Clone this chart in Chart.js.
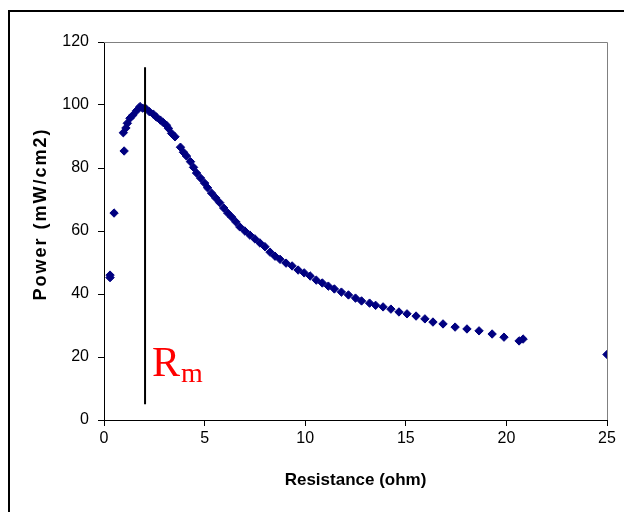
<!DOCTYPE html>
<html>
<head>
<meta charset="utf-8">
<script src="https://cdn.jsdelivr.net/npm/chart.js@4.4.1/dist/chart.umd.min.js"></script>
<style>
html,body{margin:0;padding:0;background:#fff;}
#wrap{width:624px;height:512px;position:relative;}
</style>
</head>
<body>
<div id="wrap"><canvas id="c" width="624" height="512"></canvas></div>
<script>
// Data
const resistance = [0.3, 0.3, 0.5, 1.0, 0.96, 1.09, 1.16, 1.29, 1.44, 1.62, 1.79, 1.92, 2.07, 2.25, 2.45, 2.6, 2.8, 2.95, 3.1, 3.2, 3.36, 3.53, 3.8, 3.95, 4.1, 4.3, 4.45, 4.6, 4.8, 5.0, 5.15, 5.35, 5.55, 5.75, 5.95, 6.15, 6.35, 6.55, 6.75, 7.0, 7.25, 7.5, 7.75, 8.0, 8.25, 8.5, 8.75, 9.05, 9.35, 9.65, 9.95, 10.25, 10.55, 10.85, 11.15, 11.45, 11.8, 12.15, 12.5, 12.8, 13.2, 13.5, 13.87, 14.26, 14.66, 15.06, 15.51, 15.95, 16.35, 16.85, 17.45, 18.04, 18.64, 19.29, 19.88, 20.63, 20.83, 25.0];
const power = [45.2, 46.0, 65.7, 85.4, 91.2, 92.7, 94.2, 95.8, 96.8, 98.2, 99.5, 99.0, 98.9, 97.9, 97.1, 96.2, 95.2, 94.4, 93.6, 92.6, 91.0, 89.9, 86.6, 85.0, 83.8, 82.0, 80.2, 78.4, 76.8, 75.2, 73.7, 72.0, 70.5, 69.0, 67.3, 65.7, 64.4, 62.9, 61.3, 60.0, 58.7, 57.5, 56.2, 55.0, 53.3, 52.0, 51.0, 49.8, 48.9, 47.6, 46.7, 45.7, 44.4, 43.5, 42.5, 41.6, 40.6, 39.7, 38.7, 37.8, 37.1, 36.4, 35.9, 35.2, 34.3, 33.7, 33.0, 32.1, 31.1, 30.5, 29.5, 28.9, 28.3, 27.3, 26.3, 25.1, 25.7, 20.8];
const rmLineX = [2.04, 2.04];
const rmLineY = [5, 112];
const rmLabel = {text: 'R', sub: 'm', x: 2.39, y: 14.0};
const xTicks = [0, 5, 10, 15, 20, 25];
const yTicks = [0, 20, 40, 60, 80, 100, 120];
const xTitle = 'Resistance (ohm)';
const yTitle = 'Power (mW/cm2)';

const points = resistance.map((r, i) => ({x: r, y: power[i]}));
const rmLine = rmLineX.map((x, i) => ({x: x, y: rmLineY[i]}));

const framePlugin = {
  id: 'frame',
  beforeDraw(chart) {
    const ctx = chart.ctx;
    ctx.save();
    ctx.fillStyle = '#fff';
    ctx.fillRect(0, 0, chart.width, chart.height);
    ctx.strokeStyle = '#000';
    ctx.lineWidth = 2;
    ctx.strokeRect(9, 11, 800, 700);
    ctx.restore();
  },
  beforeDatasetsDraw(chart) {
    const ctx = chart.ctx, a = chart.chartArea;
    ctx.save();
    ctx.strokeStyle = '#808080';
    ctx.lineWidth = 1;
    ctx.beginPath();
    ctx.moveTo(a.left, a.top + 0.5);
    ctx.lineTo(a.right + 0.5, a.top + 0.5);
    ctx.lineTo(a.right + 0.5, a.bottom);
    ctx.stroke();
    ctx.restore();
  },
  afterDraw(chart) {
    const ctx = chart.ctx;
    const px = chart.scales.x.getPixelForValue(rmLabel.x);
    const py = chart.scales.y.getPixelForValue(rmLabel.y);
    ctx.save();
    ctx.fillStyle = '#ff0000';
    ctx.textBaseline = 'alphabetic';
    ctx.font = '42px "Liberation Serif", "Times New Roman", serif';
    ctx.fillText(rmLabel.text, px, py);
    const w = ctx.measureText(rmLabel.text).width;
    ctx.font = '28px "Liberation Serif", "Times New Roman", serif';
    ctx.fillText(rmLabel.sub, px + w + 1, py + 6);
    ctx.restore();
    // y axis title (spaced like the reference)
    ctx.save();
    ctx.translate(41, 214);
    ctx.rotate(-Math.PI / 2);
    ctx.fillStyle = '#000';
    ctx.font = 'bold 18px "Liberation Sans", Arial, sans-serif';
    try { ctx.letterSpacing = '2px'; } catch (e) {}
    ctx.textAlign = 'center';
    ctx.textBaseline = 'middle';
    ctx.fillText(yTitle, 0, 0);
    ctx.restore();
  }
};

new Chart(document.getElementById('c'), {
  type: 'scatter',
  data: {
    datasets: [
      {
        type: 'line',
        data: rmLine,
        borderColor: '#000',
        borderWidth: 2,
        pointRadius: 0,
        fill: false,
        order: 0
      },
      {
        data: points,
        pointStyle: 'rectRot',
        pointRadius: 4.2,
        backgroundColor: '#000080',
        borderColor: '#000080',
        borderWidth: 1,
        order: 1
      }
    ]
  },
  options: {
    responsive: false,
    animation: false,
    devicePixelRatio: 1,
    layout: {padding: {top: 42, right: 17, left: 0, bottom: 0}},
    plugins: {legend: {display: false}, tooltip: {enabled: false}},
    scales: {
      x: {
        type: 'linear',
        min: 0, max: 25,
        afterFit(s) { s.height = 92; },
        afterBuildTicks(s) { s.ticks = xTicks.map(v => ({value: v})); },
        ticks: {color: '#000', font: {family: 'Liberation Sans, Arial', size: 16}, padding: 3, maxRotation: 0},
        grid: {drawOnChartArea: false, drawTicks: true, tickLength: 6, color: '#000'},
        border: {color: '#000', width: 1},
        title: {display: true, text: xTitle, color: '#000', font: {family: 'Liberation Sans, Arial', size: 17, weight: 'bold'}, padding: {top: 0, bottom: 21}}
      },
      y: {
        type: 'linear',
        min: 0, max: 120,
        afterFit(s) { s.width = 104; },
        afterBuildTicks(s) { s.ticks = yTicks.map(v => ({value: v})); },
        ticks: {color: '#000', font: {family: 'Liberation Sans, Arial', size: 16}, padding: 9},
        grid: {drawOnChartArea: false, drawTicks: true, tickLength: 6, color: '#000'},
        border: {color: '#000', width: 1},
        title: {display: false, text: yTitle}
      }
    }
  },
  plugins: [framePlugin]
});
</script>
</body>
</html>
